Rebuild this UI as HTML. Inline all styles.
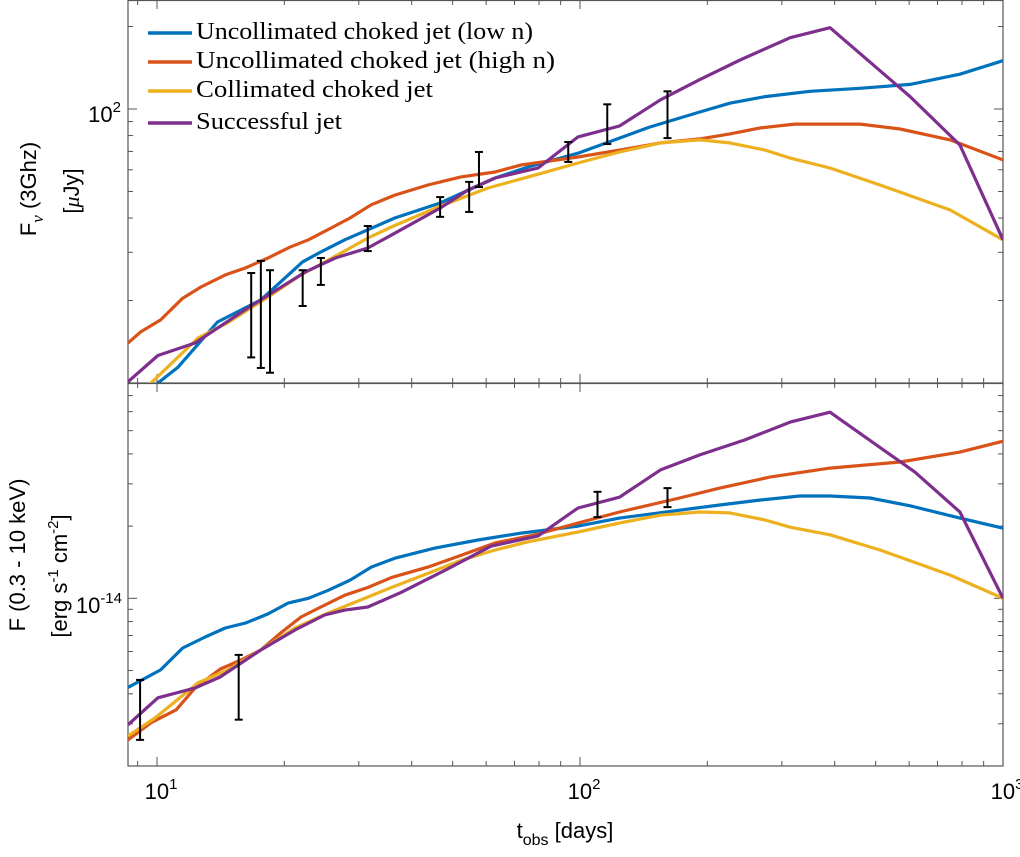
<!DOCTYPE html>
<html><head><meta charset="utf-8"><style>
body{margin:0;background:#fff;}
svg{display:block;font-family:"Liberation Sans",sans-serif;}
</style></head><body>
<svg id="chart" width="1020" height="857" viewBox="0 0 1020 857" xmlns="http://www.w3.org/2000/svg">
<g id="topPanel"></g>
<g id="botPanel"></g>
<g id="legend"></g>
<text transform="translate(36,189) rotate(-90)" text-anchor="middle" font-size="22">F<tspan dy="7" font-size="17" font-family="Liberation Serif" font-style="italic">ν</tspan><tspan dy="-7"> (3Ghz)</tspan></text>
<text transform="translate(79,191) rotate(-90)" text-anchor="middle" font-size="22">[<tspan font-family="Liberation Serif" font-style="italic">μ</tspan>Jy]</text>
<text transform="translate(25,555) rotate(-90)" text-anchor="middle" font-size="22">F (0.3 - 10 keV)</text>
<text transform="translate(67,576) rotate(-90)" text-anchor="middle" font-size="22">[erg s<tspan dy="-9" font-size="15">-1</tspan><tspan dy="9"> cm</tspan><tspan dy="-9" font-size="15">-2</tspan><tspan dy="9">]</tspan></text>
<text x="565" y="838" text-anchor="middle" font-size="22">t<tspan dy="7" font-size="16">obs</tspan><tspan dy="-7"> [days]</tspan></text>
</svg>
<script>
const blueTopT=[8.0,10.05,11.2,13.9,17.6,22.1,24.4,27.8,36.5,46.7,63.0,75.4,98.9,146,192,226,274,350,459,603,791,1000];
const blueTopF=[7.5,10.0,11.4,16.7,20.1,27.7,30.1,33.3,40.0,45.4,56.0,61.4,69.0,85.9,97.5,105,111,116,119,123,134,150];
const orangeTopT=[8.54,9.17,10.2,11.5,12.7,14.5,16.2,18.3,20.6,22.8,25.8,28.6,32.1,36.5,43.7,52.3,63.0,72.6,98.9,124,155,192,226,267,322,459,571,750,1000];
const orangeTopF=[14.0,15.4,17.0,20.4,22.4,24.8,26.3,28.6,31.3,33.3,36.8,40.0,44.7,48.5,52.8,56.5,58.9,62.5,66.8,70.8,75.2,77.8,81.1,85.3,88.1,88.1,84.5,77.1,65.2];
const yellowTopT=[8.0,9.68,12.5,14.7,18.3,21.9,25.4,31.5,35.8,46.2,60.6,78.3,98.9,124,155,192,226,274,314,390,512,750,1000];
const yellowTopF=[8.0,10.0,14.6,16.6,20.6,24.8,28.1,33.8,37.1,43.9,51.5,57.4,63.5,69.7,75.2,77.1,75.2,70.8,66.2,60.9,52.8,42.8,33.3];
const purpleTopT=[8.54,10.05,12.3,16.4,18.3,22.4,26.4,31.5,36.5,46.7,54.3,63.0,79.6,98.9,124,155,192,239,314,390,603,791,1000];
const purpleTopF=[10.1,12.6,14.0,18.8,20.9,25.4,28.6,31.1,35.2,43.5,50.6,56.0,60.9,79.1,86.7,108,128,151,182,198,111,73.9,33.3];
const radioObsT=[16.7,17.6,18.5,22.1,24.4,31.5,46.7,54.7,57.7,93.8,116,161];
const radioObsLo=[12.4,11.35,10.9,19.1,22.8,30.3,40.4,42.1,51.9,64.1,74.5,78.3];
const radioObsHi=[25.2,27.9,25.8,25.8,28.6,37.4,47.7,54.2,69.7,75.8,104,116];

const blueBotT=[8.54,10.2,11.5,13.0,14.5,16.2,18.3,20.4,22.8,25.4,28.6,32.1,36.5,45.4,57.4,72.6,98.9,124,172,214,267,331,390,485,603,791,1000];
const blueBotF=[4.25e-15,5.03e-15,6.21e-15,6.90e-15,7.52e-15,7.89e-15,8.61e-15,9.55e-15,1.0e-14,1.08e-14,1.19e-14,1.35e-14,1.47e-14,1.62e-14,1.75e-14,1.87e-14,2.0e-14,2.16e-14,2.33e-14,2.45e-14,2.57e-14,2.67e-14,2.67e-14,2.62e-14,2.43e-14,2.16e-14,1.96e-14];
const orangeBotT=[8.54,9.68,11.1,12.3,14.1,15.8,17.6,19.6,21.9,24.4,27.8,31.5,35.8,43.7,52.3,63.0,78.3,98.9,124,172,214,281,390,571,791,1000];
const orangeBotF=[2.57e-15,3.03e-15,3.43e-15,4.23e-15,5.07e-15,5.53e-15,6.09e-15,7.17e-15,8.36e-15,9.20e-15,1.03e-14,1.11e-14,1.22e-14,1.35e-14,1.51e-14,1.70e-14,1.84e-14,2.06e-14,2.29e-14,2.62e-14,2.88e-14,3.20e-14,3.49e-14,3.70e-14,4.07e-14,4.52e-14];
const yellowBotT=[8.54,9.89,12.5,14.7,17.6,21.2,25.4,30.3,35.8,43.7,52.3,63.0,75.4,98.9,124,155,192,226,274,314,390,512,750,1000];
const yellowBotF=[2.67e-15,3.17e-15,4.44e-15,5.03e-15,6.09e-15,7.52e-15,8.69e-15,9.84e-15,1.11e-14,1.27e-14,1.44e-14,1.59e-14,1.72e-14,1.89e-14,2.06e-14,2.22e-14,2.29e-14,2.27e-14,2.12e-14,1.98e-14,1.84e-14,1.59e-14,1.25e-14,1.0e-14];
const purpleBotT=[8.54,10.05,12.3,14.1,17.6,21.2,24.9,27.8,31.5,37.8,48.0,61.6,79.6,98.9,124,155,192,245,314,390,619,791,1000];
const purpleBotF=[2.97e-15,3.85e-15,4.23e-15,4.70e-15,6.09e-15,7.38e-15,8.52e-15,8.93e-15,9.20e-15,1.06e-14,1.31e-14,1.65e-14,1.82e-14,2.38e-14,2.64e-14,3.43e-14,3.96e-14,4.57e-14,5.43e-14,5.97e-14,3.36e-14,2.29e-14,1.0e-14];
const xrayObsT=[9.12,15.6,110,161];
const xrayObsLo=[2.57e-15,3.12e-15,2.18e-14,2.40e-14];
const xrayObsHi=[4.57e-15,5.81e-15,2.78e-14,2.88e-14];

const seriesNames=["Uncollimated choked jet (low n)","Uncollimated choked jet (high n)","Collimated choked jet","Successful jet"];
const colors=["#0072BD","#D95319","#EDB120","#7E2F8E"];
const xTickLabels=["1","2","3"];

const NS="http://www.w3.org/2000/svg";
const X0=128,X1=1003;
const xLogMin=Math.log10(8.54),xLogMax=3;
function sx(t){return X0+(Math.log10(t)-xLogMin)/(xLogMax-xLogMin)*(X1-X0);}
const topY0=0,topY1=383,topMin=1,topMax=2.3978;
function syTop(v){return topY1-(Math.log10(v)-topMin)/(topMax-topMin)*(topY1-topY0);}
const botY0=383,botY1=766,botMin=Math.log10(2e-15),botMax=Math.log10(7.9e-14);
function syBot(v){return botY1-(Math.log10(v)-botMin)/(botMax-botMin)*(botY1-botY0);}

function mk(tag,attrs,parent){const e=document.createElementNS(NS,tag);for(const k in attrs)e.setAttribute(k,attrs[k]);parent.appendChild(e);return e;}

function panel(g,y0,y1,sy,yTickVals,clipId){
  const defs=mk('defs',{},g);
  const cp=mk('clipPath',{id:clipId},defs);
  mk('rect',{x:X0,y:y0,width:X1-X0,height:y1-y0},cp);
  const ticksG=mk('g',{},g);
  
  
  for(let e=0;e<=3;e++)for(let m=1;m<10;m++){const v=m*Math.pow(10,e);if(v<8.54||v>1000)continue;const x=sx(v);const L=(m===1)?9:5;
    mk('line',{x1:x,y1:y1,x2:x,y2:y1-L,stroke:'#555','stroke-width':1},ticksG);
    mk('line',{x1:x,y1:y0,x2:x,y2:y0+L,stroke:'#555','stroke-width':1},ticksG);}
  yTickVals.forEach(([v,maj])=>{const y=sy(v);const L=maj?9:5;
    mk('line',{x1:X0,y1:y,x2:X0+L,y2:y,stroke:'#555','stroke-width':1},ticksG);
    mk('line',{x1:X1,y1:y,x2:X1-L,y2:y,stroke:'#555','stroke-width':1},ticksG);});
  const frame=mk('rect',{x:X0,y:y0+0.5,width:X1-X0,height:y1-y0-0.5,fill:'none',stroke:'#555','stroke-width':1.2},g);
  
  
}
const topPanel=document.getElementById('topPanel'),botPanel=document.getElementById('botPanel');
const topTicks=[];for(let m=1;m<10;m++)topTicks.push([m*10,m===1]);topTicks.push([100,true]);topTicks.push([200,false]);
panel(topPanel,topY0,topY1,syTop,topTicks,'cTop');
const botTicks=[];for(let m=2;m<10;m++)botTicks.push([m*1e-15,false]);botTicks.push([1e-14,true]);for(let m=2;m<8;m++)botTicks.push([m*1e-14,false]);
panel(botPanel,botY0,botY1,syBot,botTicks,'cBot');

function line(g,T,F,sy,color,name,clip){
  const pts=T.map((t,i)=>sx(t).toFixed(1)+','+sy(F[i]).toFixed(1)).join(' ');
  const p=mk('polyline',{points:pts,fill:'none',stroke:color,'stroke-width':3.2,'stroke-linejoin':'round','clip-path':'url(#'+clip+')'},g);
  
  
}
function errs(g,T,Lo,Hi,sy,name){
  T.forEach((t,i)=>{const x=sx(t),a=sy(Hi[i]),b=sy(Lo[i]);
    const eg=mk('g',{stroke:'#000','stroke-width':2},g);
    
    
    mk('line',{x1:x,y1:a,x2:x,y2:b},eg);
    mk('line',{x1:x-4,y1:a,x2:x+4,y2:a},eg);
    mk('line',{x1:x-4,y1:b,x2:x+4,y2:b},eg);});
}
line(topPanel,blueTopT,blueTopF,syTop,colors[0],'radio-low-n-line','cTop');
line(topPanel,orangeTopT,orangeTopF,syTop,colors[1],'radio-high-n-line','cTop');
line(topPanel,yellowTopT,yellowTopF,syTop,colors[2],'radio-collimated-line','cTop');
line(topPanel,purpleTopT,purpleTopF,syTop,colors[3],'radio-successful-jet-line','cTop');
errs(topPanel,radioObsT,radioObsLo,radioObsHi,syTop,'radio-error-bar');
line(botPanel,blueBotT,blueBotF,syBot,colors[0],'xray-low-n-line','cBot');
line(botPanel,orangeBotT,orangeBotF,syBot,colors[1],'xray-high-n-line','cBot');
line(botPanel,yellowBotT,yellowBotF,syBot,colors[2],'xray-collimated-line','cBot');
line(botPanel,purpleBotT,purpleBotF,syBot,colors[3],'xray-successful-jet-line','cBot');
errs(botPanel,xrayObsT,xrayObsLo,xrayObsHi,syBot,'xray-error-bar');

const svgEl=document.getElementById('chart');
function lab(x,y,base,exp,name,anchor){
  const t=mk('text',{x:x,y:y,'font-size':22,'text-anchor':anchor||'middle'},svgEl);
  
  
  t.appendChild(document.createTextNode(base));
  const s=mk('tspan',{dy:-10,'font-size':15},t);s.textContent=exp;
}
xTickLabels.forEach((e,i)=>lab(sx(Math.pow(10,i+1))+4,799,"10",e,'x-tick-label'));
lab(121,122,"10","2",'radio-y-tick-label','end');
lab(122,613,"10","-14",'xray-y-tick-label','end');

const lg=document.getElementById('legend');
const legY=[33,62,91,123];
const legW=[337,359,237,146];
seriesNames.forEach((n,i)=>{
  const e=mk('g',{},lg);
  
  
  mk('line',{x1:148,y1:legY[i],x2:192,y2:legY[i],stroke:colors[i],'stroke-width':3.5},e);
  const t=mk('text',{x:196,y:legY[i]+6,'font-size':24,'font-family':'"Liberation Serif",serif',textLength:legW[i],lengthAdjust:'spacingAndGlyphs'},e);
  t.textContent=n;
});
</script>
</body></html>
